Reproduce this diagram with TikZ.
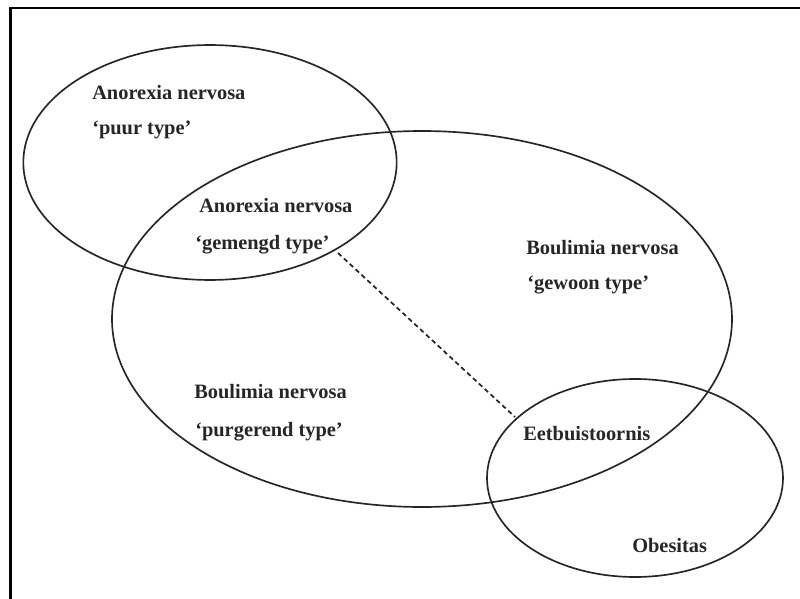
\documentclass[tikz,border=0pt]{standalone}
\usepackage{fontspec}
\setmainfont{Liberation Serif}
\begin{document}
\begin{tikzpicture}[x=0.75pt,y=-0.75pt,
  lbl/.style={anchor=base west,inner sep=0pt,font=\fontsize{15.3}{18}\selectfont\bfseries,text=black!85},
  ring/.style={draw=black!85,line width=1.25pt},
  frameline/.style={draw=black,line width=2pt},
  dashlink/.style={draw=black!85,line width=1.3pt,dash pattern=on 3.5pt off 2.5pt}]
\useasboundingbox (0,0) rectangle (800,599);
\fill[white] (0,0) rectangle (800,599);
% frame (top and left only)
\coordinate (fb) at (10.5,599);
\coordinate (fc) at (10.5,8);
\coordinate (fr) at (800,8);
\draw[frameline] (fb) -- (fc) -- (fr);
% ellipses
\draw[ring] (210,162.5) ellipse [x radius=140pt, y radius=88.1pt];
\draw[ring] (422,319) ellipse [x radius=232.5pt, y radius=141pt];
\draw[ring] (635,478) ellipse [x radius=111pt, y radius=74.25pt];
% labels
\node[lbl] (a1)  at (92,100)  {Anorexia nervosa};
\node[lbl] (a1b) at (92,135)  {‘puur type’};
\node[lbl] (a2)  at (199,213) {Anorexia nervosa};
\node[lbl] (a2b) at (195,249) {‘gemengd type’};
\node[lbl] (b1)  at (526,254) {Boulimia nervosa};
\node[lbl] (b1b) at (527,289) {‘gewoon type’};
\node[lbl] (b2)  at (194,398) {Boulimia nervosa};
\node[lbl] (b2b) at (195,436) {‘purgerend type’};
\node[lbl] (e)   at (523,440) {Eetbuistoornis};
\node[lbl] (o)   at (632,552) {Obesitas};
% dashed connector
\coordinate (ds) at (338,253);
\coordinate (de) at (515,417);
\draw[dashlink] (ds) -- (de);
\end{tikzpicture}
\end{document}
